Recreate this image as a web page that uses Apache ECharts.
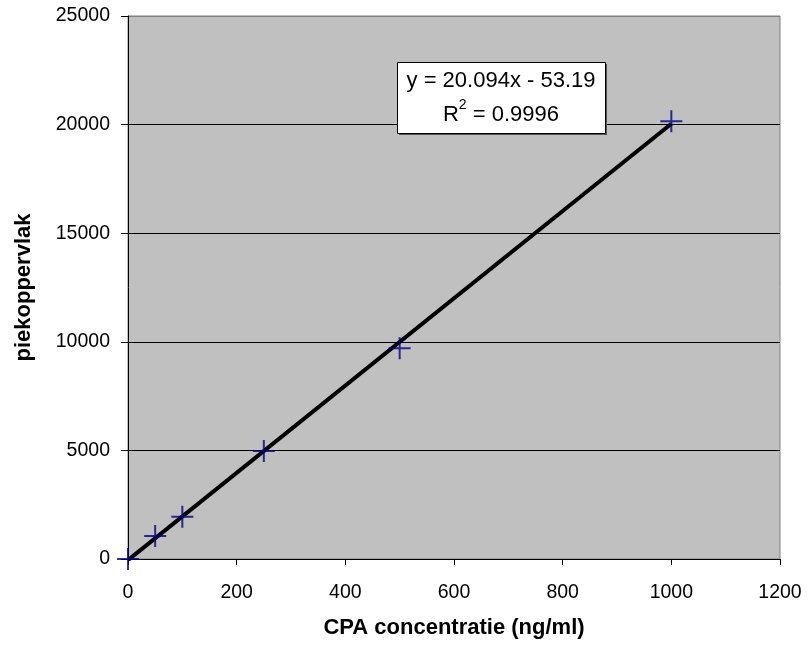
<!DOCTYPE html>
<html>
<head>
<meta charset="utf-8">
<script src="https://cdn.jsdelivr.net/npm/echarts@6/dist/echarts.min.js"></script>
<style>
html, body { margin: 0; padding: 0; background: #fff; }
#main { width: 810px; height: 645px; }
</style>
</head>
<body>
<div id="main"></div>
<script>
// meetpunten
var concX = [0, 50, 100, 250, 500, 1000];
var piekY = [0, 1060, 1950, 4970, 9700, 20150];
// trendlijn
var slope = 20.094;
var intercept = -53.19;
var trendX = [0, 1000];
var xTicks = [0, 200, 400, 600, 800, 1000, 1200];
var yTicks = [0, 5000, 10000, 15000, 20000, 25000];

var points = [];
for (var i = 0; i < concX.length; i++) {
	points.push([concX[i], piekY[i]]);
}
var trend = [];
for (var j = 0; j < trendX.length; j++) {
	trend.push([trendX[j], slope * trendX[j] + intercept]);
}

var myChart = echarts.init(document.getElementById("main"), null, {renderer: 'canvas'});
var font = '"Liberation Sans", Arial, sans-serif';
var plain = function (v) { return String(v); };

var option = {
	backgroundColor: '#fff',
	animation: false,
	grid: {
		left: 128, top: 16, right: 30, bottom: 86,
		show: true,
		backgroundColor: '#C0C0C0',
		borderColor: '#808080',
		borderWidth: 1
	},
	xAxis: {
		type: 'value',
		min: xTicks[0], max: xTicks[xTicks.length - 1], interval: 200,
		name: 'CPA concentratie (ng/ml)',
		nameLocation: 'middle',
		nameGap: 58,
		nameTextStyle: {fontFamily: font, fontSize: 22, fontWeight: 'bold', color: '#000'},
		axisLine: {show: true, lineStyle: {color: '#000', width: 1}},
		axisTick: {show: true, inside: false, length: 6, lineStyle: {color: '#000'}},
		axisLabel: {fontFamily: font, fontSize: 19.5, color: '#000', margin: 24, formatter: plain},
		splitLine: {show: false}
	},
	yAxis: {
		type: 'value',
		min: yTicks[0], max: yTicks[yTicks.length - 1], interval: 5000,
		name: 'piekoppervlak',
		nameLocation: 'middle',
		nameGap: 93,
		nameRotate: 90,
		nameTextStyle: {fontFamily: font, fontSize: 22, fontWeight: 'bold', color: '#000'},
		axisLine: {show: true, lineStyle: {color: '#000', width: 1}},
		axisTick: {show: true, inside: false, length: 7, lineStyle: {color: '#000'}},
		axisLabel: {fontFamily: font, fontSize: 19.5, color: '#000', margin: 18, formatter: plain},
		splitLine: {show: true, lineStyle: {color: ['#000', '#000', '#000', '#000', '#000', '#808080'], width: 1}}
	},
	series: [
		{
			name: 'trendlijn',
			type: 'line',
			data: trend,
			symbol: 'none',
			lineStyle: {color: '#000', width: 4},
			z: 2
		},
		{
			name: 'piekoppervlak',
			type: 'scatter',
			data: points,
			symbol: 'path://M0,10L20,10M10,0L10,20',
			symbolSize: 22,
			itemStyle: {color: 'rgba(0,0,0,0)', borderColor: '#000080', borderWidth: 2},
			z: 3
		}
	],
	graphic: [
		{
			type: 'rect',
			left: 399, top: 64,
			shape: {width: 208, height: 71},
			style: {fill: '#555'},
			z: 10
		},
		{
			type: 'rect',
			left: 397, top: 62,
			shape: {width: 208, height: 71},
			style: {fill: '#fff', stroke: '#000', lineWidth: 1},
			z: 11
		},
		{
			type: 'text',
			x: 501, y: 81,
			style: {
				text: 'y = 20.094x - 53.19',
				align: 'center', verticalAlign: 'middle',
				fontFamily: font, fontSize: 22, fill: '#000'
			},
			z: 12
		},
		{
			type: 'text',
			x: 501, y: 112,
			style: {
				text: '{b|R}{s|2}{b| = 0.9996}',
				align: 'center', verticalAlign: 'middle',
				rich: {
					b: {fontFamily: font, fontSize: 22, fill: '#000', color: '#000', verticalAlign: 'bottom', lineHeight: 28},
					s: {fontFamily: font, fontSize: 14, fill: '#000', color: '#000', verticalAlign: 'top', lineHeight: 28, padding: [0, 0, 12, 0]}
				}
			},
			z: 12
		}
	]
};
myChart.setOption(option, true);
</script>
</body>
</html>
